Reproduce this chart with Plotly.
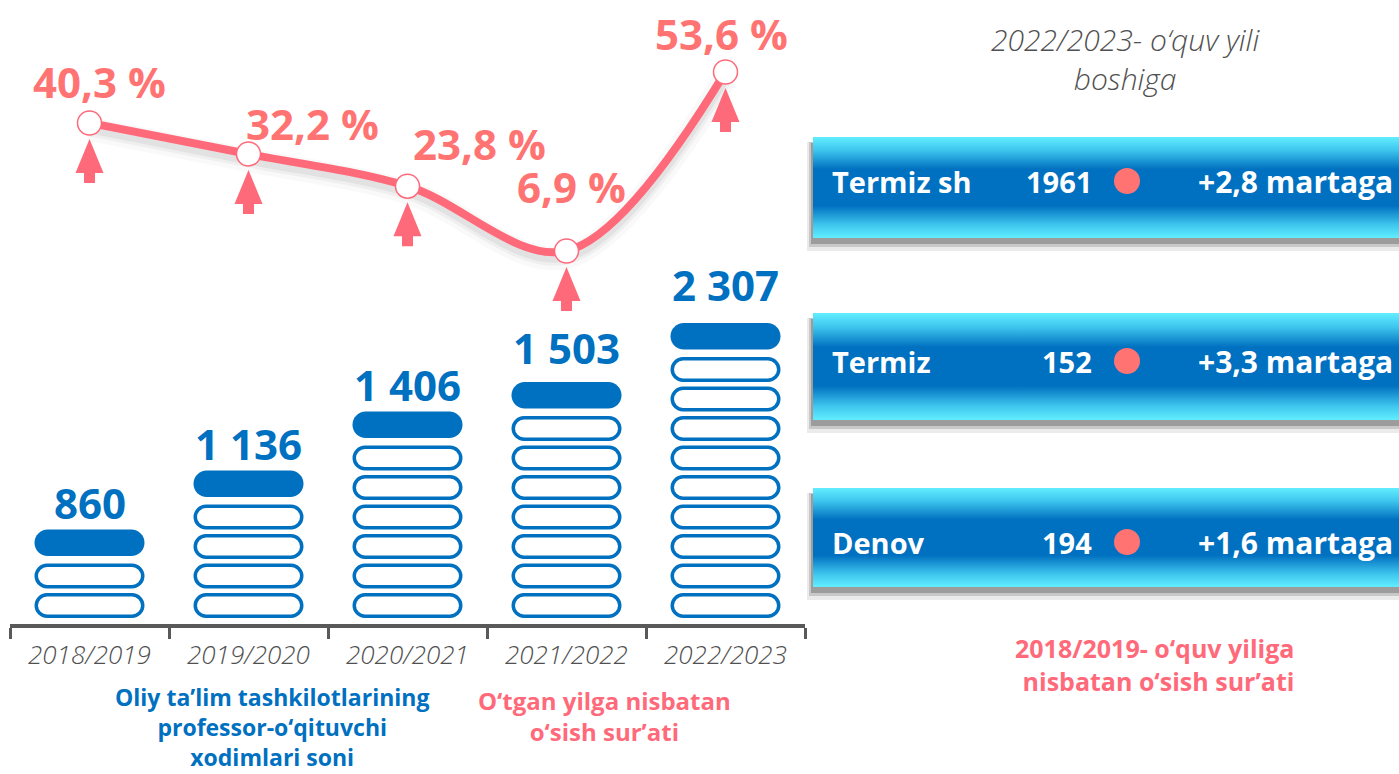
import plotly.graph_objects as go

W, H = 1399, 774

# ---------------- data ----------------
years = ["2018/2019", "2019/2020", "2020/2021", "2021/2022", "2022/2023"]
staff = [860, 1136, 1406, 1503, 2307]
staff_labels = ["860", "1 136", "1 406", "1 503", "2 307"]
ring_counts = [2, 4, 6, 7, 9]
growth_pct = [40.3, 32.2, 23.8, 6.9, 53.6]
growth_labels = ["40,3 %", "32,2 %", "23,8 %", "6,9 %", "53,6 %"]

cities = ["Termiz sh", "Termiz", "Denov"]
city_staff = [1961, 152, 194]
city_growth = ["+2,8 martaga", "+3,3 martaga", "+1,6 martaga"]

# ---------------- styles / geometry ----------------
BLUE = "#0070C0"
PINK = "#FF6A7B"
PINK_TXT = "#FF7373"
GRAY = "#595959"
DOT = "#FF7373"
FONT = "Open Sans"

X0_PX, X1_PX = 10, 805          # category axis extent (px)
AXIS_PX = 624                    # axis line (px from top)
BASE_PX = 618                    # bottom of the ring stacks
PITCH = 29.5                     # px per ring slot
ZERO2_PX = 277.4                 # px of 0 % on the growth scale
S2 = 3.833                       # px per percent
XPX = (X1_PX - X0_PX) / len(years)

LABEL_OFFSETS = [(10, 41), (64, 30), (72, 43), (5, 64), (-4, 38)]
BAR_LABEL_SHIFT = [-3, -3, -3, 4, 8]

PANELS_Y = [(137, 238), (313, 420), (488, 587)]
PANEL_TEXT_Y = [181, 361, 542]
PANEL_X0 = 813


def px(p):
    return p / W


def py(p):
    return 1 - p / H


def pill_path(xc, yb, yt, hw, ypx):
    ry = (yt - yb) / 2
    rx = ry * ypx / XPX
    ym = (yb + yt) / 2
    xl, xr = xc - hw, xc + hw
    k = 0.5523

    def f(a, b):
        return f"{a:.5f},{b:.5f}"

    return ("M " + f(xl + rx, yb) + " L " + f(xr - rx, yb)
            + " C " + f(xr - rx + k * rx, yb) + " " + f(xr, ym - k * ry) + " " + f(xr, ym)
            + " C " + f(xr, ym + k * ry) + " " + f(xr - rx + k * rx, yt) + " " + f(xr - rx, yt)
            + " L " + f(xl + rx, yt)
            + " C " + f(xl + rx - k * rx, yt) + " " + f(xl, ym + k * ry) + " " + f(xl, ym)
            + " C " + f(xl, ym - k * ry) + " " + f(xl + rx - k * rx, yb) + " " + f(xl + rx, yb)
            + " Z")


def paper_text(x, y, text, font, xanchor="center", align="center"):
    return dict(x=px(x), y=py(y), xref="paper", yref="paper", text=text, showarrow=False,
                xanchor=xanchor, yanchor="middle", align=align, font=font)


fig = go.Figure()
shapes = []
annotations = []

# ---------- pictorial bars (ring stacks) ----------
STROKE = 3.5
ring_hw = (110 - STROKE) / 2 / XPX
ring_h = (25 - STROKE) / PITCH
ring_off = (STROKE / 2) / PITCH
pill_hw = 110 / 2 / XPX
for i, n in enumerate(ring_counts):
    for k in range(n):
        shapes.append(dict(type="path", xref="x", yref="y",
                           path=pill_path(i, k + ring_off, k + ring_off + ring_h, ring_hw, PITCH),
                           line=dict(color=BLUE, width=STROKE), fillcolor="white"))
    shapes.append(dict(type="path", xref="x", yref="y",
                       path=pill_path(i, n + 0.1, n + 1.0, pill_hw, PITCH),
                       line=dict(color=BLUE, width=0), fillcolor=BLUE))
    annotations.append(dict(x=i, y=n + 1.0, xref="x", yref="y", text=staff_labels[i],
                            showarrow=False, xanchor="center", yanchor="bottom",
                            yshift=BAR_LABEL_SHIFT[i],
                            font=dict(family=FONT, size=42, color=BLUE, weight="bold")))

# ---------- growth line ----------
xs = list(range(len(years)))
for w, a in [(24, 0.025), (15, 0.04), (9, 0.05)]:
    fig.add_trace(go.Scatter(x=xs, y=[v - 6 / S2 for v in growth_pct], xaxis="x", yaxis="y2",
                             mode="lines", line=dict(color=f"rgba(0,0,0,{a})", width=w,
                                                     shape="spline", smoothing=1.0),
                             hoverinfo="skip", showlegend=False))
fig.add_trace(go.Scatter(x=xs, y=growth_pct, xaxis="x", yaxis="y2", mode="lines+markers",
                         line=dict(color=PINK, width=8, shape="spline", smoothing=1.0),
                         marker=dict(size=24, color="white", line=dict(color=PINK, width=1.5)),
                         hoverinfo="skip", showlegend=False))

for i, v in enumerate(growth_pct):
    dx, dy = LABEL_OFFSETS[i]
    annotations.append(dict(x=i, y=v, xref="x", yref="y2", text=growth_labels[i],
                            showarrow=False, xshift=dx, yshift=dy,
                            xanchor="center", yanchor="middle",
                            font=dict(family=FONT, size=42, color=PINK_TXT, weight="bold")))
    # block arrow below the point
    tip = v - 16 / S2
    hb = tip - 34 / S2
    sb = tip - 44 / S2
    hh = 14 / XPX
    sh = 5.5 / XPX
    path = (f"M {i:.4f},{tip:.4f} L {i + hh:.4f},{hb:.4f} L {i + sh:.4f},{hb:.4f} "
            f"L {i + sh:.4f},{sb:.4f} L {i - sh:.4f},{sb:.4f} L {i - sh:.4f},{hb:.4f} "
            f"L {i - hh:.4f},{hb:.4f} Z")
    shapes.append(dict(type="path", xref="x", yref="y2", path=path,
                       line=dict(width=0), fillcolor=PINK))

# ---------- category labels ----------
for i, t in enumerate(years):
    annotations.append(dict(x=i, y=py(654), xref="x", yref="paper", text=t, showarrow=False,
                            xanchor="center", yanchor="middle",
                            font=dict(family=FONT, size=26, color="#505050", style="italic",
                                      weight=300)))

# ---------- captions ----------
annotations.append(paper_text(272, 727,
                              "Oliy ta’lim tashkilotlarining<br>professor-o‘qituvchi<br>xodimlari soni",
                              dict(family=FONT, size=23, color=BLUE, weight="bold")))
annotations.append(paper_text(604, 716, "O‘tgan yilga nisbatan<br>o‘sish sur’ati",
                              dict(family=FONT, size=24, color=PINK, weight="bold")))
annotations.append(paper_text(1125, 59, "2022/2023- o‘quv yili<br>boshiga",
                              dict(family=FONT, size=30, color="#505050", style="italic", weight=300)))
annotations.append(paper_text(1296, 664, "2018/2019- o‘quv yiliga<br>nisbatan o‘sish sur’ati",
                              dict(family=FONT, size=25, color=PINK, weight="bold"),
                              xanchor="right", align="right"))

# ---------- right panels ----------
grad = [[0, "#62EEFF"], [0.13, "#3EC6EE"], [0.32, "#0070C0"], [0.68, "#0070C0"],
        [0.87, "#3EC6EE"], [1, "#62EEFF"]]
for j, (y0, y1) in enumerate(PANELS_Y):
    # shadow
    for (o, g, a) in [(9, 4, 0.08), (7, 2, 0.15), (6, 0, 0.22)]:
        shapes.append(dict(type="rect", xref="paper", yref="paper", layer="below",
                           x0=px(PANEL_X0 - 2 - g), x1=1, y0=py(y0 + o - g), y1=py(y1 + o + g),
                           line=dict(width=0), fillcolor=f"rgba(0,0,0,{a})"))
    fig.add_trace(go.Scatter(x=[PANEL_X0, W, W, PANEL_X0, PANEL_X0], y=[y0, y0, y1, y1, y0],
                             xaxis="x3", yaxis="y3", mode="lines", line=dict(width=0),
                             fill="toself", fillcolor=BLUE,
                             fillgradient=dict(type="vertical", colorscale=grad),
                             hoverinfo="skip", showlegend=False))
    ty = PANEL_TEXT_Y[j]
    wfont = dict(family=FONT, size=29, color="white", weight="bold")
    annotations.append(paper_text(830, ty, cities[j], wfont, xanchor="left", align="left"))
    annotations.append(paper_text(1094, ty, str(city_staff[j]), wfont, xanchor="right", align="right"))
    annotations.append(paper_text(1196, ty, city_growth[j],
                                  dict(family=FONT, size=30, color="white", weight="bold"),
                                  xanchor="left", align="left"))

fig.add_trace(go.Scatter(x=[1127] * 3, y=PANEL_TEXT_Y, xaxis="x3", yaxis="y3", mode="markers",
                         marker=dict(size=26, color=DOT, line=dict(width=0)),
                         hoverinfo="skip", showlegend=False))

fig.update_layout(
    width=W, height=H, margin=dict(l=0, r=0, t=0, b=0),
    paper_bgcolor="white", plot_bgcolor="rgba(0,0,0,0)",
    showlegend=False,
    xaxis=dict(domain=[X0_PX / W, X1_PX / W], range=[-0.5, len(years) - 0.5],
               showgrid=False, zeroline=False, showline=True, linecolor=GRAY, linewidth=4,
               tickmode="array", tickvals=[i - 0.5 for i in range(len(years) + 1)],
               ticktext=[""] * (len(years) + 1), ticks="outside", ticklen=11, tickwidth=3,
               tickcolor=GRAY, showticklabels=False, fixedrange=True),
    yaxis=dict(domain=[(H - AXIS_PX) / H, 1],
               range=[(BASE_PX - AXIS_PX) / PITCH, BASE_PX / PITCH],
               visible=False, fixedrange=True),
    yaxis2=dict(overlaying="y", range=[(ZERO2_PX - AXIS_PX) / S2, ZERO2_PX / S2],
                visible=False, fixedrange=True),
    xaxis3=dict(domain=[0, 1], range=[0, W], visible=False, anchor="y3", fixedrange=True),
    yaxis3=dict(domain=[0, 1], range=[H, 0], visible=False, anchor="x3", fixedrange=True),
    shapes=shapes, annotations=annotations,
)

fig.write_html("out.html", config={"displayModeBar": False},
               post_script="document.body.style.margin='0';document.body.style.overflow='hidden';")
